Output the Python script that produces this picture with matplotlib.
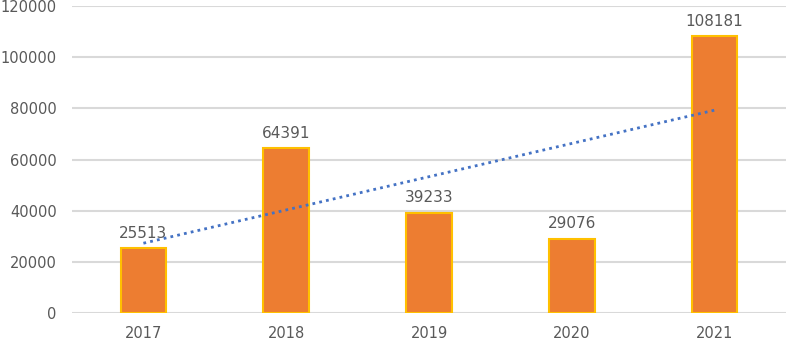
import numpy as np
import matplotlib.pyplot as plt

years = ['2017', '2018', '2019', '2020', '2021']
values = [25513, 64391, 39233, 29076, 108181]
y_ticks = [0, 20000, 40000, 60000, 80000, 100000, 120000]

fig = plt.figure(figsize=(7.86, 3.43), dpi=100)
ax = fig.add_axes([72 / 786, 30 / 343, 714 / 786, 307 / 343])

x = np.arange(len(years))
ax.bar(x, values, width=0.32, color='#ED7D31', edgecolor='#FFC000', linewidth=1.5, zorder=3)

for xi, v in zip(x, values):
    ax.text(xi, v + 2800, str(v), ha='center', va='bottom', fontsize=11, color='#595959')

# linear trendline
k, b = np.polyfit(x, values, 1)
ax.plot(x[[0, -1]], k * x[[0, -1]] + b, linestyle=(0, (1, 1.5)), color='#4472C4',
        linewidth=2, zorder=4)

ax.set_xlim(-0.5, len(years) - 0.5)
ax.set_ylim(0, 120000)
ax.set_yticks(y_ticks)
ax.set_yticklabels([str(t) for t in y_ticks])
ax.set_xticks(x)
ax.set_xticklabels(years)
ax.tick_params(length=0, labelsize=10.5, labelcolor='#595959')
ax.tick_params(axis='y', pad=11)
ax.tick_params(axis='x', pad=9)
ax.yaxis.grid(True, color='#D9D9D9', linewidth=1.5, zorder=0)
ax.set_axisbelow(True)
for s in ax.spines.values():
    s.set_visible(False)

fig.savefig('out.png', dpi=100)
